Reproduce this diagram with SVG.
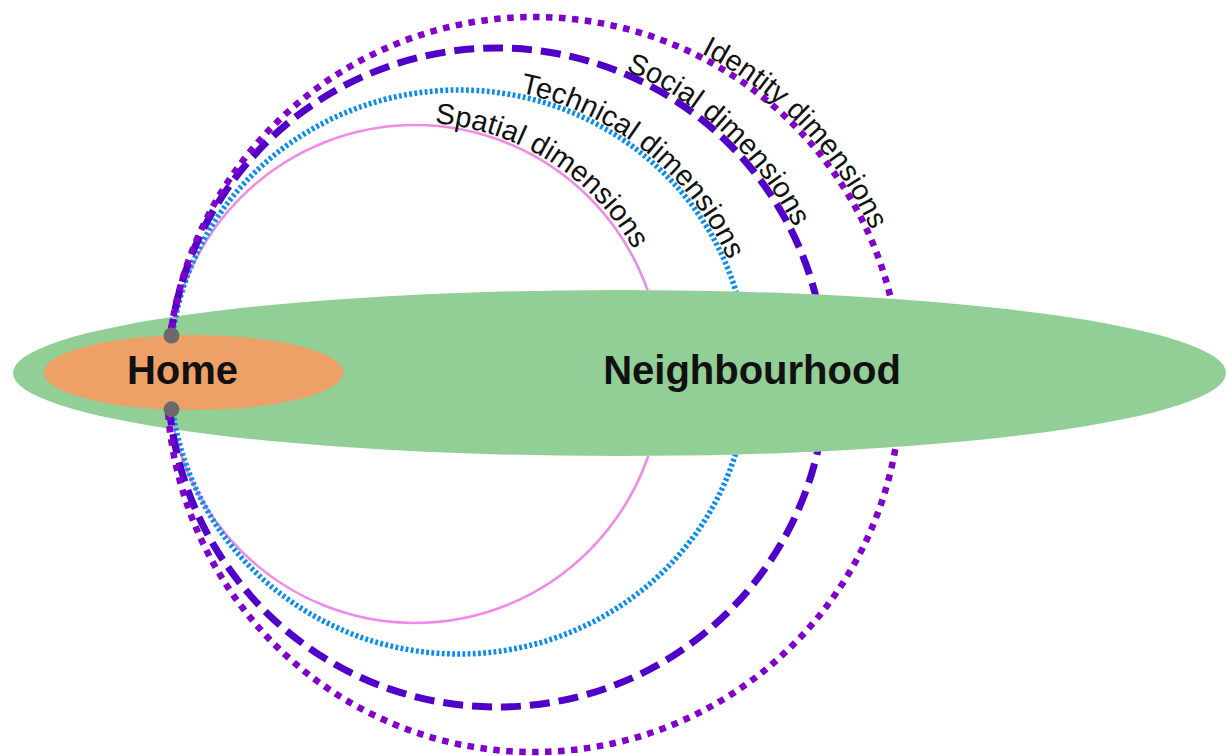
<svg xmlns="http://www.w3.org/2000/svg" width="1226" height="756" viewBox="0 0 1226 756">
  <style>
    .arc { fill: none; }
    .spatial { stroke: #EE8BE8; stroke-width: 2.6; }
    .technical { stroke: #0C8DEE; stroke-width: 5.5; stroke-dasharray: 2.8 2.4; }
    .social { stroke: #5000C8; stroke-width: 7; stroke-dasharray: 20 9; }
    .identity { stroke: #8000CC; stroke-width: 6.5; stroke-dasharray: 6.5 6.5; }
    .dim { font-family: "Liberation Sans", Arial, sans-serif; font-size: 29px; letter-spacing: 0.1px; fill: #111; }
    .area { font-family: "Liberation Sans", Arial, sans-serif; font-size: 40px; font-weight: bold; fill: #111; text-anchor: middle; }
    .pin { fill: #6a6a6a; }
  </style>
  <defs>
    <!-- arcs are shown outside the neighbourhood, and next to the home pins -->
    <mask id="arcMask" maskUnits="userSpaceOnUse" x="0" y="0" width="1226" height="756">
      <rect x="0" y="0" width="1226" height="756" fill="#fff"/>
      <ellipse cx="619.5" cy="373" rx="606.5" ry="83" fill="#000"/>
      <rect x="0" y="0" width="200" height="335" fill="#fff"/>
      <rect x="0" y="409" width="200" height="347" fill="#fff"/>
    </mask>
    <!-- baselines for the curved labels -->
    <path id="pSpatial" d="M434.7 123.3 A251.5 251.5 0 0 1 666.5 374"/>
    <path id="pTechnical" d="M519.8 92.7 A292.5 285.5 0 0 1 751.5 372"/>
    <path id="pSocial" d="M625.5 70.3 A333 333 0 0 1 830 377.5"/>
    <path id="pIdentity" d="M701.1 53.3 A370.5 371 0 0 1 904.5 384.5"/>
  </defs>

  <rect width="1226" height="756" fill="#ffffff"/>

  <g id="neighbourhood">
    <ellipse cx="619.5" cy="373" rx="606.5" ry="83" fill="#92CF96"/>
  </g>
  <g id="home">
    <ellipse cx="193.5" cy="372.5" rx="150" ry="37.5" fill="#EEA166"/>
  </g>

  <g id="connectors" mask="url(#arcMask)">
    <ellipse id="arc-spatial" class="arc spatial" cx="415" cy="374" rx="247" ry="249"/>
    <ellipse id="arc-technical" class="arc technical" cx="459" cy="372" rx="289" ry="282"/>
    <ellipse id="arc-social" class="arc social" cx="497" cy="377.5" rx="329" ry="329.5"/>
    <ellipse id="arc-identity" class="arc identity" cx="534" cy="384.5" rx="367" ry="367.5"/>
  </g>

  <g id="pins">
    <circle class="pin" cx="171.5" cy="335.5" r="8"/>
    <circle class="pin" cx="171.5" cy="409.3" r="8"/>
  </g>

  <g id="labels">
    <text class="dim"><textPath href="#pSpatial">Spatial dimensions</textPath></text>
    <text class="dim"><textPath href="#pTechnical">Technical dimensions</textPath></text>
    <text class="dim"><textPath href="#pSocial">Social dimensions</textPath></text>
    <text class="dim"><textPath href="#pIdentity">Identity dimensions</textPath></text>
    <text class="area" x="182.5" y="384">Home</text>
    <text class="area" x="752" y="384">Neighbourhood</text>
  </g>
</svg>
